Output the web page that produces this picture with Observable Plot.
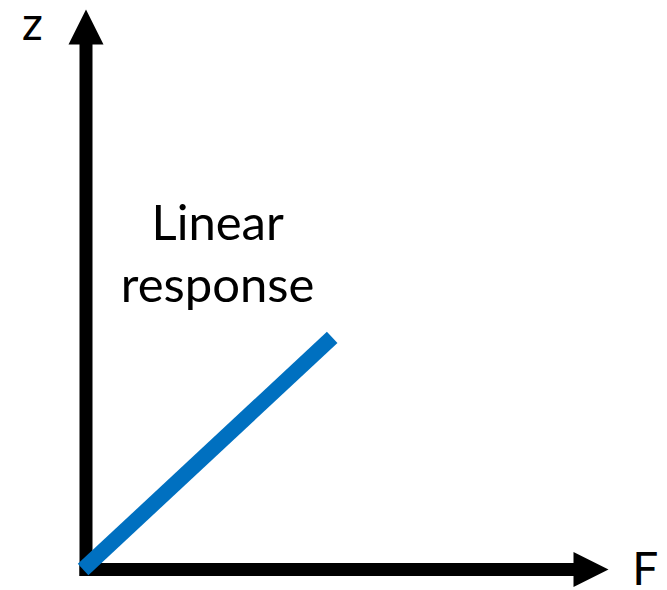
<!DOCTYPE html>
<html><head><meta charset="utf-8">
<script src="https://cdn.jsdelivr.net/npm/d3@7"></script>
<script src="https://cdn.jsdelivr.net/npm/@observablehq/plot@0.6"></script>
<style>body{margin:0;background:#fff}</style>
</head><body><div id="chart"></div>
<script>
// Axes (data units): both run from 0 to 100, arrowheads at the ends
const axisStart = [0, 0];
const axisEndF = [100, 0];
const axisEndZ = [0, 100];
// Linear response segment (F, z)
const responseF = [-0.6, 50.5];
const responseZ = [0, 44.2];
// Axis labels
const axisLabels = ["F", "z"];
const axisLabelF = [114.7, -11];
const axisLabelZ = [-3.0, 100.8];
// Annotation
const annotationLines = ["Linear", "response"];
const annotationF = [27, 27];
const annotationZ = [62.7, 50.9];

const axesLinks = [
  {x1: axisStart[0], y1: axisStart[1], x2: axisEndF[0], y2: axisEndF[1]},
  {x1: axisStart[0], y1: axisStart[1], x2: axisEndZ[0], y2: axisEndZ[1]}
];
const heads = [
  {x: axisEndF[0], y: axisEndF[1], rot: 90},
  {x: axisEndZ[0], y: axisEndZ[1], rot: 0}
];
const response = [{x1: responseF[0], y1: responseZ[0], x2: responseF[1], y2: responseZ[1]}];
const labels = axisLabels.map((t, i) => ({t, x: axisLabelF[i], y: axisLabelZ[i]}));
const notes = annotationLines.map((t, i) => ({t, x: annotationF[i], y: annotationZ[i]}));

const arrowHead = {
  draw(ctx, size) {
    const s = Math.sqrt(size / Math.PI);
    ctx.moveTo(0, -2 * s);
    ctx.lineTo(s, 0);
    ctx.lineTo(-s, 0);
    ctx.closePath();
  }
};

const chart = Plot.plot({
  width: 667,
  height: 590,
  margin: 0,
  style: {background: "#fff"},
  x: {domain: [0, 100], range: [85.5, 573], axis: null},
  y: {domain: [0, 100], range: [569, 44], axis: null},
  marks: [
    Plot.link(axesLinks, {x1: "x1", y1: "y1", x2: "x2", y2: "y2", stroke: "black", strokeWidth: 13, strokeLinecap: "square"}),
    Plot.dot(heads, {x: "x", y: "y", rotate: "rot", r: 17.5, symbol: arrowHead, fill: "black", stroke: null}),
    Plot.link(response, {x1: "x1", y1: "y1", x2: "x2", y2: "y2", stroke: "#0070C0", strokeWidth: 15.5, strokeLinecap: "butt"}),
    Plot.text(labels, {x: "x", y: "y", text: "t", fontFamily: "Lato", fontSize: 46, textAnchor: "middle", lineAnchor: "bottom", fill: "black"}),
    Plot.text(notes, {x: "x", y: "y", text: "t", fontFamily: "Lato", fontSize: 49, textAnchor: "middle", lineAnchor: "bottom", fill: "black"})
  ]
});
document.getElementById("chart").appendChild(chart);
</script>
</body></html>
